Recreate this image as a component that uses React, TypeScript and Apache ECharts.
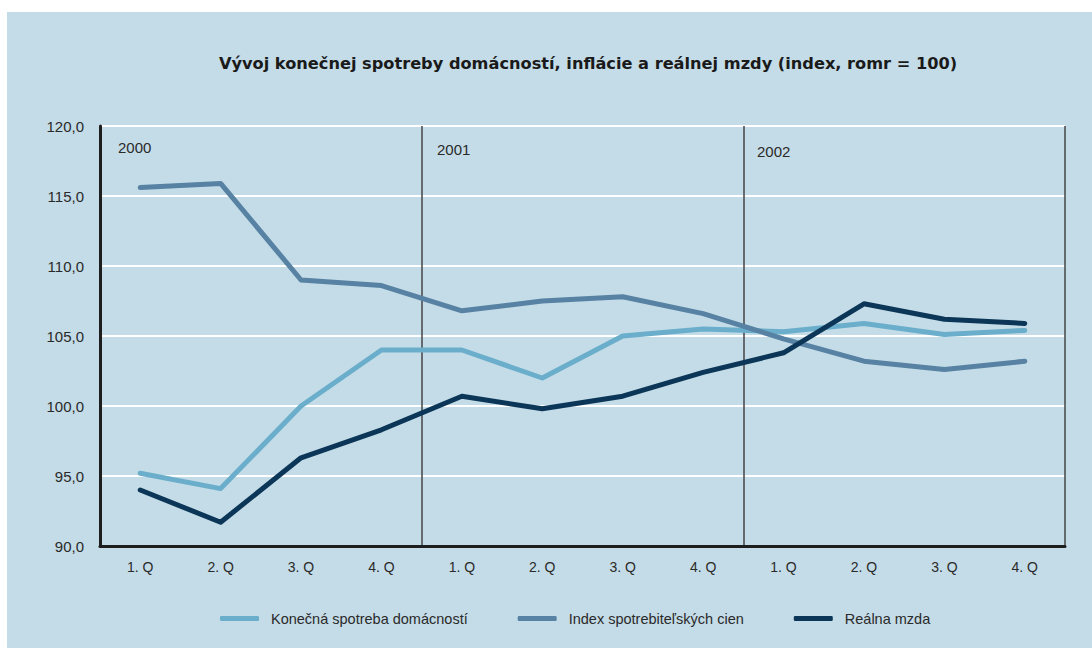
import React, { useEffect, useRef } from "react";
import * as echarts from "echarts";

const quarters = ["1. Q", "2. Q", "3. Q", "4. Q", "1. Q", "2. Q", "3. Q", "4. Q", "1. Q", "2. Q", "3. Q", "4. Q"];
const years = ["2000", "2001", "2002"];

const consumption = [95.2, 94.1, 100.0, 104.0, 104.0, 102.0, 105.0, 105.5, 105.3, 105.9, 105.1, 105.4];
const cpi = [115.6, 115.9, 109.0, 108.6, 106.8, 107.5, 107.8, 106.6, 104.8, 103.2, 102.6, 103.2];
const realWage = [94.0, 91.7, 96.3, 98.3, 100.7, 99.8, 100.7, 102.4, 103.8, 107.3, 106.2, 105.9];

const seriesNames = ["Konečná spotreba domácností", "Index spotrebiteľských cien", "Reálna mzda"];
const seriesColors = ["#6aaecb", "#5782a3", "#0b3657"];

const FONT = "'Liberation Sans', Arial, sans-serif";
const TITLE_FONT = "'DejaVu Sans', 'Liberation Sans', sans-serif";
const BG = "#c4dce7";

export default function App() {
  const ref = useRef<HTMLDivElement>(null);

  useEffect(() => {
    if (!ref.current) return;
    const chart = echarts.init(ref.current, undefined, { renderer: "svg" });
    const data = [consumption, cpi, realWage];

    chart.setOption({
      animation: false,
      backgroundColor: "#ffffff",
      title: {
        text: "Vývoj konečnej spotreby domácností, inflácie a reálnej mzdy (index, romr = 100)",
        left: 583,
        textAlign: "center",
        top: 50,
        textStyle: { fontFamily: TITLE_FONT, fontSize: 16.2, fontWeight: "bold", color: "#1a1a1a" },
      },
      graphic: [
        { type: "rect", z: -10, shape: { x: 7, y: 12, width: 1085, height: 636 }, style: { fill: BG } },
        ...years.map((y, i) => ({
          type: "text",
          x: [118, 437, 757][i],
          y: [147.5, 149, 151.5][i],
          style: { text: y, fill: "#2a2a2a", font: `15px ${FONT}`, textVerticalAlign: "middle" },
        })),
      ],
      legend: {
        left: 220,
        top: 611,
        padding: 0,
        itemWidth: 39,
        itemHeight: 5,
        itemGap: 50,
        icon: "roundRect",
        textStyle: { fontFamily: FONT, fontSize: 14.5, color: "#2a2a2a", padding: [0, 0, 0, 7] },
        data: seriesNames,
      },
      grid: { left: 100, right: 27, top: 126, bottom: 102 },
      xAxis: {
        type: "category",
        data: quarters,
        boundaryGap: true,
        axisLine: { lineStyle: { color: "#1e1e1e", width: 3 } },
        axisTick: { inside: true, length: 4, lineStyle: { color: "#1e1e1e", width: 2 } },
        axisLabel: { fontFamily: FONT, fontSize: 14, color: "#2a2a2a", margin: 14 },
        splitLine: {
          show: true,
          interval: (index: number) => index === 4 || index === 8,
          lineStyle: { color: "#444444", width: 1.5 },
        },
      },
      yAxis: {
        type: "value",
        min: 90,
        max: 120,
        interval: 5,
        axisLine: { show: true, lineStyle: { color: "#1e1e1e", width: 3 } },
        axisTick: { show: false },
        axisLabel: {
          fontFamily: FONT,
          fontSize: 15,
          color: "#2a2a2a",
          margin: 16,
          formatter: (v: number) => v.toFixed(1).replace(".", ","),
        },
        splitLine: { show: true, lineStyle: { color: "#ffffff", width: 2 } },
      },
      series: seriesNames.map((name, i) => ({
        name,
        type: "line",
        data: data[i],
        showSymbol: false,
        symbol: "none",
        color: seriesColors[i],
        lineStyle: { width: 5, color: seriesColors[i], cap: "round", join: "round" },
        z: 3 + i,
      })),
    });

    return () => chart.dispose();
  }, []);

  return <div ref={ref} style={{ position: "fixed", left: 0, top: 0, width: 1092, height: 648 }} />;
}
